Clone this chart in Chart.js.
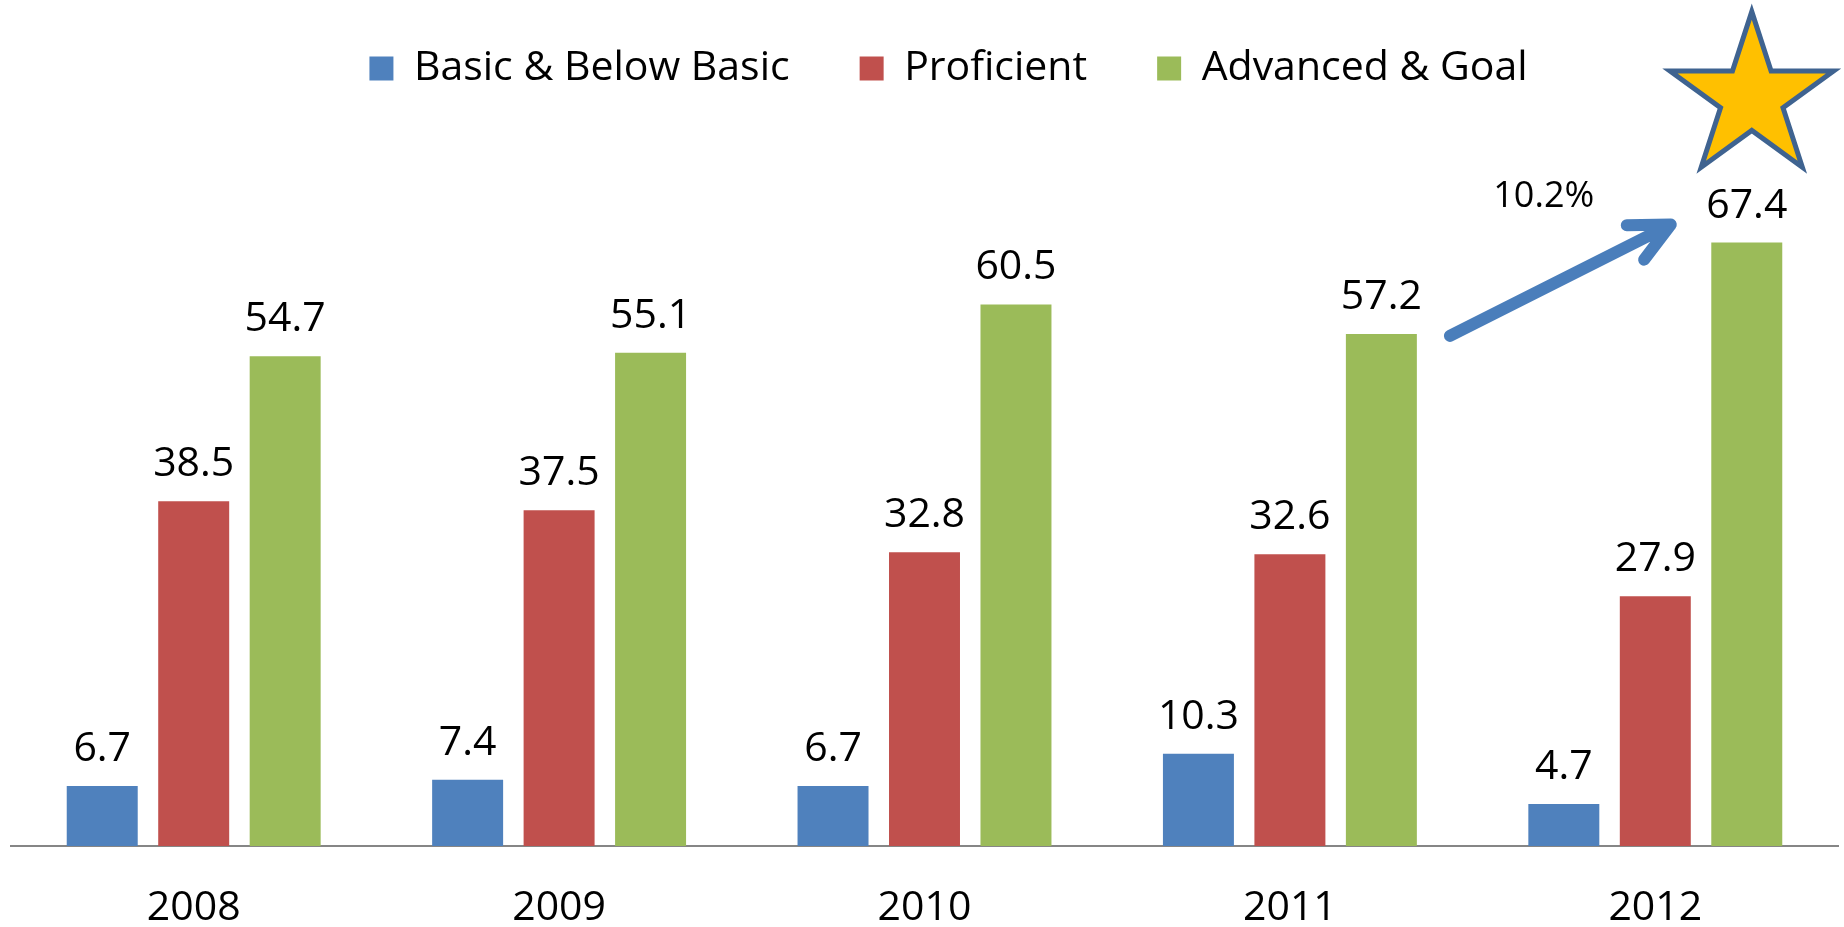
<!DOCTYPE html>
<html>
<head>
<meta charset="utf-8">
<script src="https://cdn.jsdelivr.net/npm/chart.js@4"></script>
<style>
  html, body { margin: 0; padding: 0; background: #fff; }
  #wrap { width: 1844px; height: 927px; }
</style>
</head>
<body>
<div id="wrap"><canvas id="barChart"></canvas></div>
<script>
const years = ['2008', '2009', '2010', '2011', '2012'];
const basicBelow = [6.7, 7.4, 6.7, 10.3, 4.7];
const proficient = [38.5, 37.5, 32.8, 32.6, 27.9];
const advancedGoal = [54.7, 55.1, 60.5, 57.2, 67.4];

const seriesNames = ['Basic & Below Basic', 'Proficient', 'Advanced & Goal'];
const seriesColors = ['#4F81BD', '#C0504D', '#9BBB59'];

const font = '"Open Sans", "Liberation Sans", sans-serif';

// legend sits a bit right of centre and a bit lower in the original
const legendShift = {
  id: 'legendShift',
  afterLayout(chart) {
    const lg = chart.legend;
    lg.left += 24;
    lg.right += 24;
    lg.top += 5;
    lg.bottom += 5;
  }
};

// numbers over each bar
const valueLabels = {
  id: 'valueLabels',
  afterDatasetsDraw(chart) {
    const ctx = chart.ctx;
    ctx.save();
    ctx.font = '41px ' + font;
    ctx.fillStyle = '#000';
    ctx.textAlign = 'center';
    ctx.textBaseline = 'alphabetic';
    chart.data.datasets.forEach((ds, i) => {
      chart.getDatasetMeta(i).data.forEach((bar, j) => {
        ctx.fillText(ds.data[j].toFixed(1), bar.x, bar.y - 25);
      });
    });
    ctx.restore();
  }
};

// arrow from 2011 to 2012 green bar, growth text and the star
const growthMark = {
  id: 'growthMark',
  afterDraw(chart) {
    const ctx = chart.ctx;
    const bars = chart.getDatasetMeta(2).data;
    const from = bars[3];
    const to = bars[4];

    const x1 = from.x + from.width / 2 + 33;
    const y1 = from.y + 2;
    const x2 = to.x - 76;
    const y2 = to.y - 18;

    ctx.save();
    ctx.strokeStyle = '#4A7EBB';
    ctx.lineWidth = 12;
    ctx.lineCap = 'round';
    ctx.lineJoin = 'round';
    ctx.beginPath();
    ctx.moveTo(x1, y1);
    ctx.lineTo(x2, y2);
    const ang = Math.atan2(y1 - y2, x1 - x2);
    const wing = 44;
    const spread = 26 * Math.PI / 180;
    ctx.moveTo(x2 + wing * Math.cos(ang - spread), y2 + wing * Math.sin(ang - spread));
    ctx.lineTo(x2, y2);
    ctx.lineTo(x2 + wing * Math.cos(ang + spread), y2 + wing * Math.sin(ang + spread));
    ctx.stroke();

    const growth = (advancedGoal[4] - advancedGoal[3]).toFixed(1) + '%';
    ctx.font = '36px ' + font;
    ctx.fillStyle = '#000';
    ctx.textAlign = 'center';
    ctx.textBaseline = 'middle';
    ctx.fillText(growth, x2 - 127, y2 - 28);

    // star
    const cx = to.x + 5;
    const cy = to.y - 145;
    const R = 86;
    const r = R * 0.382;
    ctx.beginPath();
    for (let k = 0; k < 10; k++) {
      const rad = k % 2 === 0 ? R : r;
      const a = -Math.PI / 2 + k * Math.PI / 5;
      const px = cx + rad * Math.cos(a);
      const py = cy + rad * Math.sin(a);
      if (k === 0) ctx.moveTo(px, py); else ctx.lineTo(px, py);
    }
    ctx.closePath();
    ctx.fillStyle = '#FFC000';
    ctx.fill();
    ctx.lineWidth = 5;
    ctx.lineJoin = 'miter';
    ctx.strokeStyle = '#3F6390';
    ctx.stroke();
    ctx.restore();
  }
};

const datasets = [basicBelow, proficient, advancedGoal].map((d, i) => ({
  label: seriesNames[i],
  data: d,
  backgroundColor: seriesColors[i],
  borderWidth: 0,
  categoryPercentage: 0.751,
  barPercentage: 0.776
}));

new Chart(document.getElementById('barChart'), {
  type: 'bar',
  data: { labels: years, datasets },
  options: {
    responsive: true,
    maintainAspectRatio: false,
    animation: false,
    layout: {
      padding: { left: 11, right: 6, top: -27, bottom: -44 }
    },
    plugins: {
      legend: {
        position: 'top',
        labels: {
          boxWidth: 24,
          boxHeight: 24,
          padding: 70,
          color: '#000',
          font: { family: font, size: 41 }
        }
      },
      tooltip: { enabled: false }
    },
    scales: {
      x: {
        grid: { display: false, drawTicks: false },
        border: { display: true, color: '#868686', width: 2 },
        ticks: {
          color: '#000',
          padding: 42,
          font: { family: font, size: 41, lineHeight: 1 }
        }
      },
      y: {
        display: false,
        min: 0,
        max: 84
      }
    }
  },
  plugins: [legendShift, valueLabels, growthMark]
});
</script>
</body>
</html>
